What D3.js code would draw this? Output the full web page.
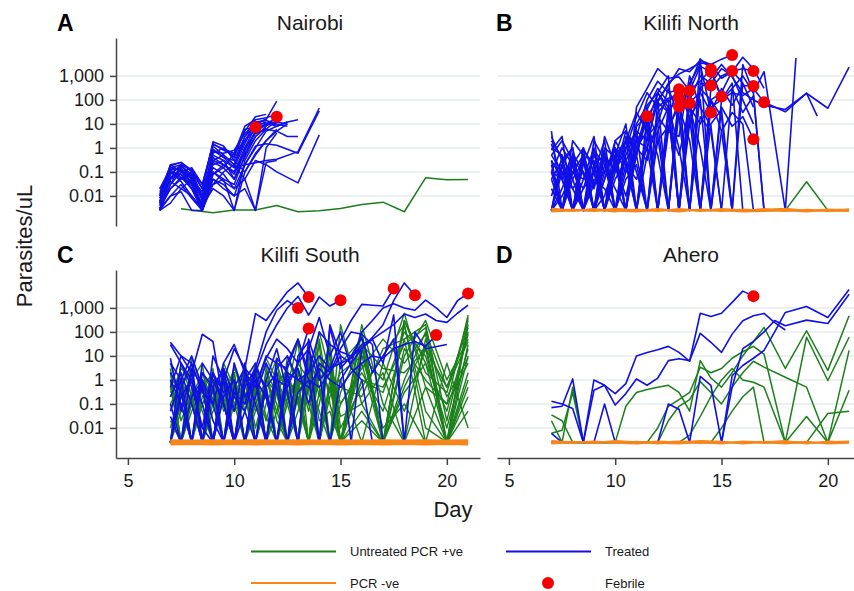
<!DOCTYPE html>
<html>
<head>
<meta charset="utf-8">
<script src="https://cdn.jsdelivr.net/npm/d3@7"></script>
<style>
  body { margin: 0; background: #fff; }
  svg { display: block; font-family: "Liberation Sans", Arial, sans-serif; }
</style>
</head>
<body>
<div id="main"></div>
<script>
const ND = 0.0025; // below detection
const _ = null;    // no sample that day

// sampling days
const daysNairobi = [6.5, 7, 7.5, 8, 8.5, 9, 9.5, 10, 10.5, 11, 11.5, 12, 12.5, 13, 14];
const daysNairobiGreen = [7.5, 9, 10, 11, 12, 13, 14, 15, 16, 17, 18, 19, 20, 21];
const daysKenya = [7, 7.5, 8, 8.5, 9, 9.5, 10, 10.5, 11, 11.5, 12, 12.5, 13, 13.5, 14, 14.5,
                   15, 15.5, 16, 16.5, 17, 17.5, 18, 18.5, 19, 19.5, 20, 20.5, 21];
const daysDaily = [7, 8, 9, 10, 11, 12, 13, 14, 15, 16, 17, 18, 19, 20, 21];
const daysNorthLate = [16, 17, 18, 19, 20, 21];

const yTicks = [0.01, 0.1, 1, 10, 100, 1000];
const xTicks = [5, 10, 15, 20];

// A - Nairobi
const nairobiUntreated = [
  [0.0029, 0.002, 0.0026, 0.0026, 0.004, 0.0022, 0.0024, 0.003, 0.0044, 0.0055, 0.0022, 0.057, 0.047, 0.049]
];
const nairobiTreated = [
  [0.02, 0.15, 0.2, 0.06, 0.01, 0.8, 0.4, 0.3, 3, 15],
  [0.005, 0.2, 0.25, 0.1, 0.02, 1.5, 0.8, 0.5, 5, 20, 25],
  [0.003, 0.05, 0.15, 0.03, ND, 0.3, 0.2, 0.1, 1, 8, 12],
  [0.01, 0.1, 0.08, 0.02, ND, 0.1, 0.05, 0.03, 0.5, 5, 10, 18],
  [ND, 0.03, 0.1, 0.15, 0.03, 1.2, 0.5, 0.2, 2, 10, 15, 90],
  [0.015, 0.08, 0.2, 0.05, 0.008, 0.6, 1, 0.4, 6, 7.3],
  [0.003, 0.02, 0.05, 0.1, 0.01, 0.2, 0.3, 0.05, 0.4, 3, 8, 20],
  [0.008, 0.12, 0.06, 0.03, 0.004, 0.08, 0.15, 0.6, 2, 6, 10, 12, 10],
  [ND, 0.01, 0.03, 0.008, ND, 0.05, 0.02, 0.01, 0.2, 1, 5, 8, 12, 15],
  [0.005, 0.06, 0.12, 0.05, 0.015, 0.4, 0.2, 0.08, 1, 4, 6, 5, 3, 3],
  [0.01, 0.04, 0.02, 0.01, 0.003, 0.1, 0.04, 0.02, 0.2, 0.24, 0.3, 0.34, _, 0.7, 46],
  [0.004, 0.02, 0.06, 0.02, 0.005, 0.15, 0.08, 0.02, 0.05, 0.3, 0.2, 0.1, _, 0.035, 3.5],
  [0.006, 0.08, 0.18, 0.08, 0.006, 0.5, 0.3, 0.15, 0.2, 1.2, 1.5, 1.3, _, 0.6, 35],
  [0.012, 0.2, 0.1, 0.04, 0.01, 0.03, 0.1, 0.2, 0.05, ND, 1, 4.2],
  [ND, 0.005, 0.02, 0.05, 0.004, 0.02, 0.01, ND, 0.3, 2, 6, 14],
  [0.004, 0.15, 0.12, 0.07, 0.003, 0.7, 0.6, 0.8, 4, 10, 16],
  [0.02, 0.1, 0.04, 0.01, ND, 0.25, 0.15, 0.05, 0.8, 5, 9, 10],
  [0.003, 0.03, 0.2, 0.12, 0.02, 1.8, 1.2, 0.3, 0.1, 0.6, 2, 6],
  [0.008, 0.05, 0.08, 0.04, 0.003, 0.05, 0.03, 0.01, 0.02, ND, 0.25, 0.3],
  [0.005, 0.12, 0.15, 0.03, 0.004, 0.9, 0.4, 0.15, 1.5, 12, 14, 10, 8],
  [ND, 0.06, 0.12, 0.02, ND, 0.08, 0.2, 0.1, 0.6, 3, 7],
  [0.01, 0.18, 0.25, 0.12, 0.03, 1.4, 0.9, 0.6, 8, 15, 18, 25],
  [0.003, 0.01, 0.015, ND, ND, 0.03, 0.05, ND, 0.1, 0.5, 2, 5, 10],
  [0.006, 0.1, 0.05, 0.08, 0.01, 0.3, 0.5, 0.2, 3, 9, 11, 8, 12]
];
const nairobiFebrile = [[11, 7.3], [12, 20]];

// B - Kilifi North
const northUntreated = [[ND, ND, ND, 0.039, ND, 0.0027]];
const northTreated = [
  [5, ND, 2, 0.5, ND, 3, 0.2, ND, 8, 20, 100, 400, 2000, 1500, 4500, 3000, 800, 1500, 6000, 2000, 300],
  [0.8, 3, ND, 1, 0.1, ND, 2, 5, 1, 40, 300, 80, 280, 240, 600, 1900],
  [0.3, 0.05, 0.5, ND, 0.8, 0.2, ND, 1, 20, 200, 50, 120, 130, 72],
  [2, 0.4, ND, 0.2, 3, ND, 0.5, 10, ND, 21],
  [ND, 0.2, 1, ND, 0.03, 0.5, 0.1, 2, 30, 5, ND, 60, 52],
  [0.05, ND, 0.3, 0.1, ND, 1, 0.4, ND, 3, 100, 600, 200, 280, ND, 500, 400],
  [1, 0.5, ND, 0.02, 0.5, 0.1, 1, ND, 50, 300, 2000, 800, 900, 240, 2500, 1500, 140],
  [ND, 0.01, 0.1, 0.5, ND, 0.05, 2, 0.3, ND, 10, 200, 1000, ND, 500, 3000, 30],
  [0.1, 1, 0.2, ND, 0.1, 2, ND, 0.5, 5, ND, 80, 500, 1200, 2000, 3500, 3000, 5000, 7500],
  [3, 0.3, 1, ND, 0.8, ND, 0.1, 5, 0.5, 50, ND, 20, 400, 100, ND, 300, 1000, 1600, 2000, 1600],
  [0.02, ND, 0.05, 0.3, ND, 0.2, 0.02, ND, 1, 5, 100, ND, 200, 50, 10, 100, 200, 1600, 500],
  [0.5, 0.1, ND, 0.8, 0.2, ND, 0.5, 2, 0.1, ND, 30, 100, ND, 80, 200, 30, 300, 60, 400, 380],
  [ND, 0.5, 0.05, ND, 2, 0.3, ND, 0.1, 10, 60, 200, 30, ND, 20, 100, ND, 50, 8, 20, 2.3],
  [0.2, ND, 0.6, 0.1, ND, 0.05, 1, 0.2, ND, 3, 10, ND, 80, 300, ND, 50, 100, 200, 150, 300, 80, _, 32, _, 190, 21],
  [0.01, 0.2, ND, 0.05, 0.3, ND, 0.2, 0.01, 0.5, ND, 5, 50, 1, ND, 20, 5, ND, 300, 1000, 200, 1500, _, ND, 5600],
  [0.1, ND, 0.2, 1, ND, 0.1, 0.5, ND, 2, 1, ND, 5, 100, ND, 300, 800, 3000, 900, 200, 100, 60, _, 40, _, 190, _, 45, _, 2300],
  [ND, 0.1, 0.02, ND, 0.2, 0.5, ND, 3, 0.5, 20, ND, 8, 50, 2, ND, 10, 40, ND, 3000, 200, ND],
  [0.5, 2, 0.3, ND, ND, 0.5, 0.1, 1, 5, 2, 80, 30, ND, 100, 1000, 500, 2000, 1000, 100, 10],
  [ND, ND, 0.1, 0.02, 0.1, ND, 0.05, 0.3, 2, 10, 0.5, ND, 30, 400, 5000, ND, 100, 300, 30, 150, ND],
  [1.5, 0.05, ND, 0.3, 0.02, 0.8, ND, 0.2, 0.05, 1, 200, 50, ND, 10, 300, 100, 20, ND, 500, 50],
  [0.05, 0.3, 0.02, 0.1, ND, 0.01, 0.3, 2, ND, 0.5, 10, 300, 20, ND, 5000, 2000, 100, 500, ND],
  [ND, 0.02, 0.3, ND, 0.05, 0.02, ND, 0.05, 0.2, ND, 2, 8, 0.5, 50, 1, ND, 5, 30, 10, ND],
  [0.3, ND, 0.1, 0.05, 1, ND, 0.3, ND, 0.5, 30, 3, ND, 200, 20, ND, 100, 5, ND],
  [0.1, 0.05, ND, 0.5, 0.03, 0.1, 0.8, 0.1, 1, 0.3, 20, 5, 3, 1000, 50, 8, ND]
];
const northNegative = [
  [0.0024, 0.0028, 0.0023, 0.0027, 0.0025, 0.0029, 0.0024, 0.0026, 0.0023, 0.0028, 0.0025, 0.0027, 0.0024, 0.0028, 0.0026],
  [0.0027, 0.0023, 0.0026, 0.0022, 0.0028, 0.0024, 0.0027, 0.0023, 0.0026, 0.0024, 0.0029, 0.0023, 0.0027, 0.0025, 0.0023],
  [0.0022, 0.0025, 0.0029, 0.0024, 0.0022, 0.0026, 0.0022, 0.0028, 0.0025, 0.0022, 0.0023, 0.0025, 0.0022, 0.0026, 0.0028],
  [0.003, 0.0026, 0.0024, 0.003, 0.0026, 0.0023, 0.0029, 0.0025, 0.0029, 0.0026, 0.0027, 0.003, 0.0025, 0.0023, 0.0025]
];
const northFebrile = [[11.5, 21], [13, 280], [13, 130], [13, 52], [13.5, 240], [13.5, 72],
  [14.5, 1900], [14.5, 1500], [14.5, 400], [14.5, 30], [15, 140], [15.5, 7500], [15.5, 1600],
  [16.5, 1600], [16.5, 380], [16.5, 2.3], [17, 80]];

// C - Kilifi South
const southUntreated = [
  [3, ND, 0.5, 0.05, ND, 2, 0.1, ND, 0.3, 5, ND, 1, 0.2, ND, 10, 1, ND, _, 30, _, ND, _, 300, _, 5, _, ND, _, 400],
  [0.1, 0.8, ND, 2, 0.3, ND, 5, 0.05, 1, ND, 0.5, 3, ND, 20, 0.2, 5, 0.1, _, 2, _, 0.05, _, 50, _, 200, _, 0.02, _, 100],
  [ND, 5, 0.2, ND, 1, 0.1, ND, 2, 0.01, 0.5, 8, ND, 1, 0.3, 100, 2, ND, _, 10, _, 1, _, 600, _, 0.5, _, ND, _, 30],
  [0.5, ND, 8, 0.5, ND, 0.3, 2, ND, 0.1, 1, 0.05, ND, 5, 1, 0.05, ND, 200, _, 0.1, _, ND, _, 20, _, 1, _, 0.1, _, 500],
  [1, 0.02, 0.3, ND, 3, ND, 0.5, 0.1, 5, ND, 0.3, 2, 0.1, 8, ND, 0.5, ND, _, 100, _, ND, _, 0.5, _, 30, _, ND, _, 2],
  [ND, 0.3, 1, 5, ND, 0.8, ND, 0.2, 2, 0.03, ND, 0.5, 40, ND, 2, 20, 0.01, _, 0.5, _, 10, _, 200, _, 0.05, _, ND, _, 10],
  [0.05, 2, ND, 0.1, 0.5, ND, 0.2, 3, ND, 1, 0.1, ND, 0.5, 3, ND, 1, ND, _, 5, _, ND, _, 1, _, 100, _, 0.5, _, 150],
  [2, ND, 0.1, 1, ND, 5, 0.5, ND, 0.5, 8, 1, ND, 0.2, ND, 5, 0.3, 0.5, _, 0.2, _, 20, _, 50, _, ND, _, ND, _, 0.5],
  [ND, 0.05, 2, ND, 0.1, 1, ND, 0.5, 3, ND, 2, 0.5, ND, 1, 30, ND, 5, _, 50, _, ND, _, 10, _, 300, _, 1, _, 50],
  [0.3, 1, ND, 0.5, 2, 0.1, 1, ND, 0.05, 0.2, ND, 10, 0.5, ND, 0.1, 10, ND, _, 1, _, 0.3, _, 100, _, 10, _, 0.01, _, 20],
  [5, 0.1, ND, 1, ND, 0.2, 3, 0.3, ND, 2, 0.3, ND, 3, 0.1, ND, 0.5, 1, _, ND, _, 5, _, 0.05, _, 20, _, ND, _, 200],
  [ND, 1, 0.1, ND, 0.5, ND, 1, 0.1, 0.5, ND, 5, 0.2, 1, ND, 50, 0.1, ND, _, 200, _, 0.1, _, ND, _, 0.5, _, 0.1, _, 5],
  [0.02, ND, 0.3, 0.1, 1, 0.5, ND, 5, 0.05, 0.3, ND, 0.2, ND, 10, 0.5, ND, 0.1, _, 3, _, 50, _, 5, _, 80, _, ND, _, 0.05],
  [1, 0.5, 3, ND, 0.2, ND, 0.1, 1, ND, 0.1, 1, 2, ND, 0.5, 1, 5, ND, _, 0.02, _, ND, _, 300, _, 2, _, 0.3, _, 300],
  [ND, ND, 0.05, 0.5, ND, 3, 0.3, ND, 1, 0.2, ND, 1, 0.3, 2, ND, 0.2, 2, _, 10, _, 0.01, _, 0.1, _, ND, _, 5, _, 0.01],
  [0.2, 3, 1, ND, 0.05, 0.2, ND, 0.3, ND, 3, 0.02, ND, 2, 0.05, 3, ND, ND, _, 1, _, 0.5, _, 30, _, 150, _, ND, _, 1],
  [ND, 0.1, ND, 0.2, 1, ND, 2, ND, 0.5, 0.02, 1, 0.1, ND, 5, 0.02, 0.05, ND, _, 20, _, ND, _, 0.3, _, 5, _, 0.05, _, 80],
  [0.8, ND, 0.2, 2, 0.1, 0.5, ND, 1, 0.2, ND, 0.05, 1, 0.1, ND, 0.3, 2, 0.03, _, 0.1, _, 2, _, ND, _, 50, _, 0.2, _, 8],
  [0.01, 0.5, ND, ND, 2, 0.05, 0.5, ND, 2, 0.5, ND, 0.1, 2, 0.3, ND, 40, ND, _, 0.05, _, ND, _, 200, _, 0.01, _, ND, _, 0.2],
  [ND, 0.2, 0.8, 0.1, ND, 1, 0.05, 0.2, ND, 1, 0.3, ND, 0.05, 1, 0.5, ND, 0.3, _, 30, _, 3, _, 2, _, 20, _, 0.5, _, 40]
];
const southTreated = [
  [30, 5, 0.5, 0.01, ND, 1, 20, 3, 580, 300, 1200, 4700, 11000, 2850],
  [0.5, 10, 2, 80, 40, 0.1, ND, 0.5, 3, 100, 800, 2000, 1000],
  [37, 10, 5, 0.3, 0.1, 5, 30, 2, 0.5, 8, 50, 20, 5, 140],
  [0.1, ND, 3, 0.5, ND, 0.2, 1, ND, 2, 30, 200, 1000, 3000, 500, 2850, 1200, 2080],
  [ND, 0.5, 5, ND, 2, 0.1, ND, 1, 0.5, 10, 5, 3, 50, 2, 10, 3, 43, 300, 1400, 1300, 1200, 6500],
  [1, 0.1, ND, 2, 0.5, ND, 5, 0.2, 1, ND, 3, 10, 1, 2, 100, 30, 15, 10, 20, 60, 200, 2000, 11000, 3350],
  [0.2, 2, 0.1, ND, 10, 1, ND, 0.05, 2, ND, 1, 0.5, 5, 20, 1, 3, 5, 8, 30, 50, 100, 200, 560, 400, 560, 300, 250, 600, 1300],
  [ND, 5, 1, 0.1, ND, 3, 0.2, 0.05, ND, 0.5, 2, ND, 0.3, 1, 0.5, 2, 10, 5, 100, 300, 1000, 1500, 1000, 800, 2100, 1000, 400, 2000, 4000],
  [2, 0.3, ND, 1, 0.1, ND, 0.5, 3, 1, 0.2, ND, 2, 1, 0.5, 3, 1, 0.5, 2, 5, 10, 8, 20, 30, 40, 25, 74],
  [8, 0.05, 2, ND, 0.5, 3, ND, 1, 5, 0.3, ND, 5, 50, 1, ND, 200, 10, ND, 20, 50, 5, 500, ND, 100, 20, _, 30],
  [0.05, 1, ND, 5, 1, 0.1, ND, 2, 0.1, ND, 8, 2, ND, 20, 400, 10, 100, 3, 1, ND],
  [5, 1, 10, 0.5, ND, 2, 0.05, 5, ND, 1, 20, 0.3, ND, 50, 2, ND, 1, 5, 20],
  [0.03, ND, 0.2, 1, 0.02, ND, 0.3, 0.1, 3, 0.5, ND, 1, 3, 0.1, 5, 2, 20, 100, 80, 30, ND],
  [ND, 0.2, 1, 0.01, 2, 0.3, 1, ND, 0.2, 5, 0.5, ND, 10, 40, ND, 150, 3, 10, 60, 2, 10, 50, ND]
];
const southNegative = [
  [0.0021, 0.0022, 0.0021, 0.0022, 0.0021, 0.0022, 0.0021, 0.0022, 0.0021, 0.0022, 0.0021, 0.0022, 0.0021, 0.0022, 0.0021],
  [0.0024, 0.0023, 0.0024, 0.0025, 0.0024, 0.0023, 0.0024, 0.0025, 0.0024, 0.0023, 0.0024, 0.0025, 0.0024, 0.0023, 0.0024],
  [0.0027, 0.0026, 0.0027, 0.0026, 0.0027, 0.0028, 0.0026, 0.0027, 0.0026, 0.0027, 0.0028, 0.0026, 0.0027, 0.0026, 0.0027],
  [0.003, 0.0029, 0.003, 0.0029, 0.003, 0.0029, 0.003, 0.0029, 0.003, 0.0029, 0.003, 0.0029, 0.003, 0.0029, 0.003]
];
const southFebrile = [[13, 1000], [13.5, 2850], [13.5, 140], [15, 2080], [17.5, 6500], [18.5, 3350], [19.5, 74], [21, 4000]];

// D - Ahero
const aheroUntreated = [
  [0.035, 0.02, ND, ND, ND, ND, ND, 0.08, 0.3, 0.4, 0.5, 0.6, 0.3, 0.05, 6.4, 1.2, 0.5, 2, 10, 40, 155, _, 3, _, 112, _, 2.5, _, 470],
  [0.006, 0.008, 0.3, ND, ND, ND, ND, ND, ND, ND, 0.01, 0.08, 0.15, 0.3, 3.4, 2, 3, 8, 15, 25, 12, _, ND, _, 60, _, 0.95, _, 60],
  [ND, ND, ND, ND, ND, ND, ND, ND, ND, ND, ND, 0.02, 0.08, 0.15, 0.85, 0.3, 0.1, 0.5, 2, 6, 3.4, _, 1.3, _, 0.5, _, ND, _, 17],
  [0.02, ND, 0.5, ND, ND, ND, ND, ND, ND, ND, ND, ND, ND, 0.005, 0.03, 0.2, 1, 3, 1, 0.8, 0.5, _, ND, _, 0.03, _, ND, _, 0.37],
  [ND, ND, ND, ND, ND, ND, ND, ND, ND, ND, ND, ND, ND, ND, ND, ND, 0.01, 0.05, 0.2, 0.5, ND, _, ND, _, ND, _, 0.04, _, 0.05]
];
const aheroTreated = [
  [0.13, 0.1, 0.065, ND, 1.0, 0.6, 0.27, 0.7, 10, 14, 18, 25, 14, 6, 600, 440, 600, 1700, 5000, 3100],
  [0.07, 0.08, 1.1, ND, 0.37, 0.6, 0.09, 0.27, 1.1, 0.6, 1.2, 6.4, 7.6, 6.4, 87, 37, 14, 81, 290, 470, 590, 245, 120],
  [0.006, ND, ND, ND, ND, 0.1, ND, ND, ND, ND, ND, 0.1, 0.06, ND, 1.4, 0.6, ND, 1.5, 4, 8, 17, 100, 650, _, 1150, _, 400, _, 5900],
  [_, _, _, _, _, _, _, _, _, _, _, _, _, _, _, _, ND, 0.5, 20, 40, 100, 300, 180, _, 310, _, 225, _, 3700]
];
const aheroNegative = [
  [0.0024, 0.0027, 0.0023, 0.0026, 0.0024, 0.0028, 0.0025, 0.0023, 0.0026, 0.0024, 0.0027, 0.0025, 0.0023, 0.0026, 0.0028],
  [0.0027, 0.0023, 0.0026, 0.0023, 0.0027, 0.0024, 0.0022, 0.0027, 0.0024, 0.0026, 0.0023, 0.0027, 0.0025, 0.0024, 0.0026],
  [0.0022, 0.0025, 0.0028, 0.0024, 0.0022, 0.0025, 0.0028, 0.0025, 0.0022, 0.0028, 0.0025, 0.0022, 0.0027, 0.0022, 0.0024],
  [0.0029, 0.0026, 0.0024, 0.0029, 0.0026, 0.0022, 0.0026, 0.0029, 0.0027, 0.0022, 0.0026, 0.0029, 0.0022, 0.0028, 0.0025]
];
const aheroFebrile = [[16.5, 3100]];

const colGreen = "#1b7f1b", colBlue = "#1010e6", colOrange = "#f7861b", colRed = "#f50000";

const panels = [
  { letter: "A", letterX: 57, title: "Nairobi", x0: 116, y0: 38, yAxis: true, xAxis: false, febrile: nairobiFebrile,
    groups: [
      { days: daysNairobiGreen, series: nairobiUntreated, color: colGreen, w: 1.5 },
      { days: daysNairobi, series: nairobiTreated, color: colBlue, w: 1.5 }] },
  { letter: "B", letterX: 496, title: "Kilifi North", x0: 497, y0: 38, yAxis: false, xAxis: false, febrile: northFebrile,
    groups: [
      { days: daysNorthLate, series: northUntreated, color: colGreen, w: 1.5 },
      { days: daysKenya, series: northTreated, color: colBlue, w: 1.6 },
      { days: daysDaily, series: northNegative, color: colOrange, w: 1.5 }] },
  { letter: "C", letterX: 57, title: "Kilifi South", x0: 116, y0: 270, yAxis: true, xAxis: true, febrile: southFebrile,
    groups: [
      { days: daysKenya, series: southUntreated, color: colGreen, w: 1.4 },
      { days: daysKenya, series: southTreated, color: colBlue, w: 1.6 },
      { days: daysDaily, series: southNegative, color: colOrange, w: 2.5 }] },
  { letter: "D", letterX: 496, title: "Ahero", x0: 497, y0: 270, yAxis: false, xAxis: true, febrile: aheroFebrile,
    groups: [
      { days: daysKenya, series: aheroUntreated, color: colGreen, w: 1.5 },
      { days: daysKenya, series: aheroTreated, color: colBlue, w: 1.6 },
      { days: daysDaily, series: aheroNegative, color: colOrange, w: 1.6 }] }
];

const W = 854, H = 591;
const pw = 364, ph = 188;

const svg = d3.select("#main").append("svg")
  .attr("width", W).attr("height", H);

const x = d3.scaleLinear().domain([4.44, 21.56]).range([0, pw]);
const y = d3.scaleLog().domain([0.00056, 38000]).range([ph, 0]);
const line = d3.line().x(d => x(d[0])).y(d => y(d[1]));

function points(days, vals) {
  return vals.map((v, i) => [days[i], v]).filter(d => d[1] != null);
}

panels.forEach(p => {
  const g = svg.append("g").attr("transform", `translate(${p.x0},${p.y0})`);

  // gridlines
  g.selectAll("line.grid")
    .data(yTicks)
    .join("line")
    .attr("class", "grid")
    .attr("x1", 1).attr("x2", pw)
    .attr("y1", d => y(d)).attr("y2", d => y(d))
    .attr("stroke", "#e4ecee")
    .attr("stroke-width", 1.5);

  // lines, group by group
  p.groups.forEach(grp => {
    g.append("g").selectAll("path")
      .data(grp.series.map(s => points(grp.days, s)))
      .join("path")
      .attr("d", line)
      .attr("fill", "none")
      .attr("stroke", grp.color)
      .attr("stroke-width", grp.w)
      .attr("stroke-linejoin", "round");
  });

  // febrile dots
  g.append("g").selectAll("circle")
    .data(p.febrile)
    .join("circle")
    .attr("cx", d => x(d[0]))
    .attr("cy", d => y(d[1]))
    .attr("r", 6)
    .attr("fill", colRed);

  if (p.yAxis) {
    const ax = g.append("g")
      .call(d3.axisLeft(y).tickValues(yTicks).tickFormat(d3.format(","))
        .tickSize(6).tickSizeOuter(0).tickPadding(6));
    ax.select(".domain").attr("stroke", "#444").attr("stroke-width", 1.5);
    ax.selectAll(".tick line").attr("stroke", "#444").attr("stroke-width", 1.5);
    ax.selectAll("text").attr("font-size", 18).attr("fill", "#1a1a1a")
      .style("font-family", "Liberation Sans, Arial, sans-serif");
  }

  if (p.xAxis) {
    const ax = g.append("g")
      .attr("transform", `translate(0,${ph})`)
      .call(d3.axisBottom(x).tickValues(xTicks).tickSize(7).tickSizeOuter(0).tickPadding(9));
    ax.select(".domain").attr("stroke", "#444").attr("stroke-width", 1.5);
    ax.selectAll(".tick line").attr("stroke", "#444").attr("stroke-width", 1.5);
    ax.selectAll("text").attr("font-size", 18).attr("fill", "#1a1a1a")
      .style("font-family", "Liberation Sans, Arial, sans-serif");
  }

  // title and panel letter
  svg.append("text")
    .attr("x", p.x0 + 194).attr("y", p.y0 - 8)
    .attr("text-anchor", "middle")
    .attr("font-size", 21).attr("fill", "#1a1a1a")
    .text(p.title);

  svg.append("text")
    .attr("x", p.letterX).attr("y", p.y0 - 7)
    .attr("font-size", 23).attr("font-weight", "bold").attr("fill", "#000")
    .text(p.letter);
});

// axis titles
svg.append("text")
  .attr("transform", "translate(32,246) rotate(-90)")
  .attr("text-anchor", "middle")
  .attr("font-size", 22).attr("fill", "#1a1a1a")
  .text("Parasites/uL");

svg.append("text")
  .attr("x", 453).attr("y", 517)
  .attr("text-anchor", "middle")
  .attr("font-size", 22).attr("fill", "#1a1a1a")
  .text("Day");

// legend
const legend = [
  { label: "Untreated PCR +ve", color: colGreen, kind: "line", x: 251, y: 551.5 },
  { label: "Treated", color: colBlue, kind: "line", x: 506, y: 551.5 },
  { label: "PCR -ve", color: colOrange, kind: "line", x: 251, y: 583 },
  { label: "Febrile", color: colRed, kind: "dot", x: 506, y: 583 }
];
const lg = svg.append("g").selectAll("g").data(legend).join("g");
lg.filter(d => d.kind === "line").append("line")
  .attr("x1", d => d.x).attr("x2", d => d.x + 85)
  .attr("y1", d => d.y).attr("y2", d => d.y)
  .attr("stroke", d => d.color).attr("stroke-width", 2);
lg.filter(d => d.kind === "dot").append("circle")
  .attr("cx", d => d.x + 42).attr("cy", d => d.y).attr("r", 6)
  .attr("fill", d => d.color);
lg.append("text")
  .attr("x", d => d.x + 99).attr("y", d => d.y + 4.5)
  .attr("font-size", 13).attr("fill", "#1a1a1a")
  .text(d => d.label);
</script>
</body>
</html>
